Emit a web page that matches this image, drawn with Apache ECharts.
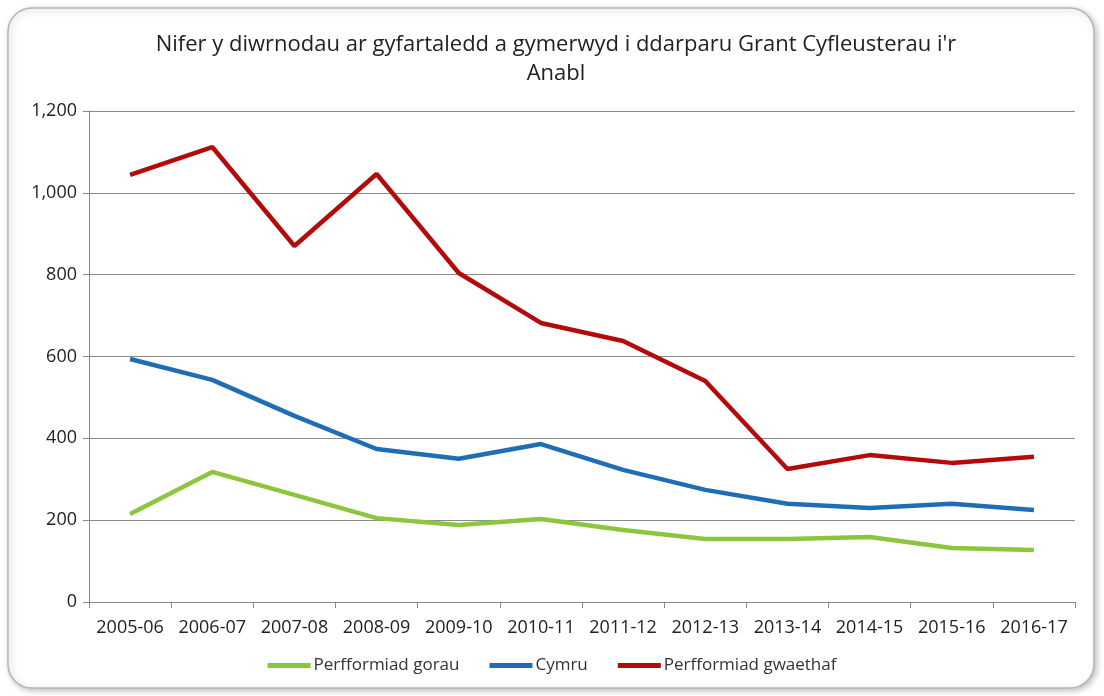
<!DOCTYPE html>
<html>
<head>
<meta charset="utf-8">
<script src="https://cdn.jsdelivr.net/npm/echarts@6/dist/echarts.min.js"></script>
<style>
  html, body { margin: 0; padding: 0; background: #fff; }
  #main { width: 1104px; height: 696px; }
</style>
</head>
<body>
<div id="main"></div>
<script>
  const categories = ['2005-06', '2006-07', '2007-08', '2008-09', '2009-10', '2010-11',
    '2011-12', '2012-13', '2013-14', '2014-15', '2015-16', '2016-17']
  const gorau = [215, 318, 262, 205, 188, 203, 176, 154, 154, 159, 132, 127]
  const cymru = [594, 543, 455, 374, 350, 386, 323, 274, 240, 230, 240, 225]
  const gwaethaf = [1044, 1112, 870, 1046, 804, 682, 638, 540, 325, 359, 340, 355]
  const seriesNames = ['Perfformiad gorau', 'Cymru', 'Perfformiad gwaethaf']
  const titleText = "Nifer y diwrnodau ar gyfartaledd a gymerwyd i ddarparu Grant Cyfleusterau i'r\nAnabl"

  const font = "'Open Sans', sans-serif"
  const colors = ['#8CC63E', '#1F6EB5', '#B30B0B']

  const chart = echarts.init(document.getElementById('main'))
  const mkLine = (name, data, color) => ({
    name: name,
    type: 'line',
    data: data,
    symbol: 'none',
    lineStyle: { width: 4.5, color: color },
    itemStyle: { color: color }
  })

  chart.setOption({
    animation: false,
    textStyle: { fontFamily: font },
    graphic: [{
      type: 'rect',
      z: -10,
      shape: { x: 8, y: 8, width: 1086, height: 680, r: 24 },
      style: {
        fill: '#fff', stroke: '#b5b5b5', lineWidth: 1.5,
        shadowBlur: 6, shadowOffsetX: 2, shadowOffsetY: 2, shadowColor: 'rgba(0,0,0,0.25)'
      }
    }],
    title: {
      text: titleText,
      left: 551,
      textAlign: 'center',
      top: 25,
      textStyle: { fontFamily: font, fontSize: 22, fontWeight: 'normal', color: '#222', lineHeight: 29 }
    },
    legend: {
      bottom: 17,
      left: 'center',
      itemWidth: 43,
      itemHeight: 5,
      itemGap: 30,
      icon: 'rect',
      textStyle: { fontFamily: font, fontSize: 17, color: '#333', padding: [0, 0, 0, -2] },
      data: seriesNames
    },
    grid: { left: 89, right: 29, top: 111, bottom: 94 },
    xAxis: {
      type: 'category',
      data: categories,
      boundaryGap: true,
      axisLine: { lineStyle: { color: '#888', width: 1 } },
      axisTick: { show: true, length: 6, alignWithLabel: false, lineStyle: { color: '#888' } },
      axisLabel: { fontFamily: font, fontSize: 18, color: '#222', margin: 17, interval: 0 }
    },
    yAxis: {
      type: 'value',
      min: 0,
      max: 1200,
      interval: 200,
      axisLine: { show: true, lineStyle: { color: '#888', width: 1 } },
      axisTick: { show: true, length: 6, lineStyle: { color: '#888' } },
      splitLine: { lineStyle: { color: '#8a8a8a', width: 1 } },
      axisLabel: {
        fontFamily: font, fontSize: 18, color: '#222', margin: 12,
        formatter: v => v.toLocaleString('en-GB')
      }
    },
    series: [
      mkLine(seriesNames[0], gorau, colors[0]),
      mkLine(seriesNames[1], cymru, colors[1]),
      mkLine(seriesNames[2], gwaethaf, colors[2])
    ]
  })
</script>
</body>
</html>
